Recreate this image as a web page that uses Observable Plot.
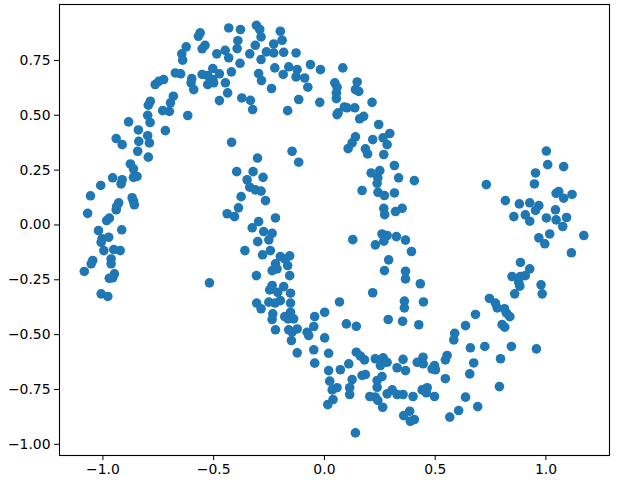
<!DOCTYPE html>
<html>
<head>
<meta charset="utf-8">
<script src="https://cdn.jsdelivr.net/npm/d3@7"></script>
<script src="https://cdn.jsdelivr.net/npm/@observablehq/plot@0.6"></script>
<style>
  html, body { margin: 0; padding: 0; background: white; overflow: hidden; }
</style>
</head>
<body>
<div id="chart"></div>
<script>
// Point coordinates (x and y in the same order)
const xValues = [
  -0.432,-0.379,-0.561,-0.569,-0.391,-0.539,-0.552,-0.624,-0.448,-0.486,
  -0.394,-0.644,-0.640,-0.432,-0.381,-0.504,-0.673,-0.649,-0.552,-0.527,
  -0.504,-0.474,-0.420,-0.599,-0.602,-0.590,-0.527,-0.500,-0.447,-0.437,
  -0.373,-0.726,-0.748,-0.764,-0.682,-0.695,-0.474,-0.786,-0.795,-0.730,
  -0.700,-0.617,-0.798,-0.787,-0.884,-0.840,-0.718,-0.798,-0.790,-0.940,
  -0.913,-0.838,-0.843,-0.795,-0.419,-0.876,-0.862,-0.956,-0.913,-0.918,
  -0.862,-0.846,-1.010,-1.056,-0.868,-0.862,-0.858,-0.929,-0.938,-0.940,
  -1.069,-0.971,-0.983,-1.020,-0.915,-0.974,-1.004,-1.008,-0.996,-0.951,
  -0.922,-0.963,-0.963,-1.046,-1.053,-1.084,-0.948,-0.956,-0.971,-1.008,
  -0.978,-0.519,-0.396,-0.439,-0.406,-0.388,-0.376,-0.359,-0.307,-0.292,
  -0.286,-0.199,-0.191,-0.312,-0.229,-0.229,-0.262,-0.337,-0.184,-0.128,
  -0.286,-0.224,-0.161,-0.123,-0.128,-0.089,-0.186,-0.063,-0.018,0.083,
  -0.297,-0.284,-0.239,-0.075,0.047,0.057,0.054,0.054,0.148,0.140,
  0.155,-0.334,-0.324,-0.116,-0.021,-0.166,0.090,0.102,0.137,0.062,
  0.057,0.215,0.159,0.177,0.245,0.295,0.265,0.283,0.140,0.125,
  0.107,0.218,0.185,0.195,0.268,-0.146,-0.302,-0.116,-0.322,-0.349,
  -0.337,-0.312,-0.286,-0.277,-0.266,-0.221,-0.297,-0.326,-0.274,-0.236,
  -0.251,-0.301,-0.244,-0.279,-0.199,-0.157,-0.179,-0.221,-0.214,-0.236,
  -0.166,-0.307,-0.157,-0.236,-0.247,-0.184,-0.211,-0.153,-0.306,-0.251,
  -0.199,-0.153,0.068,0.316,0.211,0.250,0.241,0.238,0.335,0.406,
  0.170,0.242,0.271,0.316,0.268,0.272,0.321,0.351,0.128,0.260,
  0.283,0.268,0.230,0.325,0.366,0.393,0.290,0.271,0.366,0.366,
  0.433,0.218,0.361,0.447,1.002,1.008,1.080,0.953,0.948,0.731,
  1.046,1.058,1.080,1.118,0.817,0.880,0.927,0.968,0.953,1.043,
  0.855,0.907,0.927,1.002,1.046,1.093,1.076,1.017,0.968,0.995,
  1.171,1.115,0.885,0.927,0.847,0.885,0.907,0.877,0.882,0.859,
  0.978,0.983,0.745,0.772,-0.286,-0.223,-0.153,-0.139,-0.179,-0.164,
  -0.233,-0.236,-0.221,-0.161,-0.146,-0.123,-0.149,-0.044,0.001,-0.078,
  -0.071,-0.048,0.001,-0.123,-0.048,0.019,-0.044,0.099,0.144,0.288,
  0.353,0.426,0.361,0.144,0.163,0.181,0.230,0.265,0.283,0.253,
  0.328,0.355,0.366,0.419,0.445,0.446,0.110,0.072,0.019,0.170,
  0.185,0.125,0.024,0.057,0.035,0.039,0.015,0.114,0.114,0.238,
  0.260,0.238,0.205,0.230,0.241,0.263,0.283,0.306,0.328,0.355,
  0.400,0.441,0.385,0.358,0.388,0.406,0.140,0.780,0.813,0.822,
  0.837,0.682,0.637,0.802,0.814,0.588,0.584,0.659,0.724,0.844,
  0.957,0.554,0.546,0.674,0.795,0.497,0.486,0.501,0.656,0.546,
  0.790,0.464,0.460,0.497,0.637,0.692,0.606,0.566
];
const yValues = [
  0.898,0.891,0.876,0.860,0.840,0.819,0.803,0.812,0.796,0.780,
  0.804,0.780,0.751,0.762,0.737,0.713,0.693,0.689,0.686,0.681,
  0.663,0.689,0.698,0.667,0.648,0.617,0.640,0.648,0.648,0.602,
  0.579,0.663,0.655,0.640,0.587,0.557,0.567,0.564,0.546,0.521,
  0.518,0.499,0.500,0.467,0.470,0.433,0.430,0.407,0.374,0.394,
  0.366,0.381,0.336,0.309,0.377,0.278,0.256,0.215,0.206,0.187,
  0.217,0.221,0.180,0.133,0.124,0.108,0.092,0.101,0.084,0.069,
  0.053,0.031,0.020,-0.026,-0.022,-0.056,-0.063,-0.079,-0.117,-0.112,
  -0.117,-0.155,-0.177,-0.162,-0.177,-0.212,-0.223,-0.241,-0.243,-0.314,
  -0.326,-0.264,0.243,0.051,0.038,0.078,0.129,-0.117,0.910,0.891,
  0.857,0.883,0.842,0.819,0.825,0.784,0.789,0.780,0.787,0.784,
  0.754,0.716,0.721,0.708,0.675,0.670,0.686,0.731,0.708,0.716,
  0.690,0.658,0.622,0.628,0.648,0.628,0.602,0.576,0.652,0.617,
  0.609,0.568,0.526,0.572,0.559,0.521,0.538,0.534,0.534,0.511,
  0.503,0.559,0.484,0.495,0.458,0.417,0.397,0.366,0.402,0.374,
  0.348,0.389,0.347,0.324,0.321,0.336,0.305,0.286,0.243,0.206,
  0.172,0.160,0.154,0.217,0.111,0.032,0.015,-0.013,-0.030,-0.038,
  -0.068,-0.076,-0.117,-0.136,-0.144,-0.141,-0.155,-0.177,-0.200,-0.208,
  -0.185,-0.231,-0.231,-0.276,-0.296,-0.281,-0.307,-0.311,-0.356,-0.352,
  -0.345,-0.356,-0.351,0.271,0.237,0.248,0.215,0.190,0.215,0.202,
  0.157,0.149,0.134,0.146,0.076,0.047,0.061,0.076,-0.067,-0.041,
  -0.048,-0.074,-0.091,-0.053,-0.069,-0.121,-0.159,-0.208,-0.211,-0.246,
  -0.268,-0.309,-0.347,-0.351,0.337,0.275,0.266,0.237,0.187,0.184,
  0.144,0.152,0.122,0.139,0.111,0.096,0.101,0.088,0.066,0.069,
  0.038,0.046,0.017,0.032,0.023,0.034,-0.007,-0.041,-0.059,-0.086,
  -0.048,-0.127,-0.171,-0.200,-0.235,-0.235,-0.231,-0.261,-0.279,-0.314,
  -0.273,-0.314,-0.335,-0.356,-0.382,-0.356,-0.398,-0.428,-0.418,-0.428,
  -0.405,-0.431,-0.478,-0.478,-0.489,-0.474,-0.527,-0.418,-0.398,-0.489,
  -0.504,-0.463,-0.515,-0.583,-0.569,-0.585,-0.630,-0.451,-0.462,-0.431,
  -0.439,-0.455,-0.378,-0.580,-0.598,-0.615,-0.610,-0.606,-0.626,-0.641,
  -0.651,-0.613,-0.664,-0.626,-0.603,-0.633,-0.633,-0.660,-0.664,-0.686,
  -0.682,-0.705,-0.712,-0.742,-0.752,-0.796,-0.819,-0.742,-0.773,-0.709,
  -0.691,-0.740,-0.782,-0.785,-0.800,-0.831,-0.770,-0.752,-0.773,-0.773,
  -0.782,-0.752,-0.849,-0.869,-0.895,-0.887,-0.948,-0.378,-0.382,-0.402,
  -0.418,-0.408,-0.459,-0.454,-0.466,-0.494,-0.524,-0.560,-0.554,-0.554,
  -0.565,-0.595,-0.615,-0.629,-0.610,-0.641,-0.656,-0.660,-0.679,-0.701,
  -0.737,-0.742,-0.765,-0.782,-0.785,-0.828,-0.846,-0.876
];
const xTicks = [-1.0, -0.5, 0.0, 0.5, 1.0];
const yTicks = [-1.0, -0.75, -0.5, -0.25, 0.0, 0.25, 0.5, 0.75];

const points = xValues.map((x, i) => ({x, y: yValues[i]}));
const fmt = (digits) => (d) => (d < 0 ? "\u2212" : "") + Math.abs(d).toFixed(digits);

const chart = Plot.plot({
  width: 640,
  height: 480,
  marginLeft: 59,
  marginRight: 31,
  marginTop: 4,
  marginBottom: 25,
  style: {fontFamily: "DejaVu Sans", fontSize: "13.9px", background: "white", color: "black"},
  x: {domain: [-1.196, 1.287], ticks: xTicks, tickFormat: fmt(1), tickSize: 5, tickPadding: 4, label: null},
  y: {domain: [-1.051, 1.005], ticks: yTicks, tickFormat: fmt(2), tickSize: 5, tickPadding: 4, label: null},
  marks: [
    Plot.dot(points, {x: "x", y: "y", r: 4.8, fill: "#1f77b4", stroke: "none"}),
    Plot.frame({stroke: "black", strokeWidth: 1.1})
  ]
});
document.getElementById("chart").appendChild(chart);
</script>
</body>
</html>
